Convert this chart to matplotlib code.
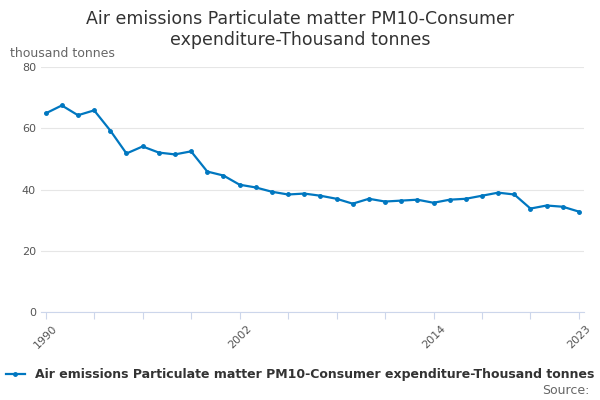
import matplotlib.pyplot as plt

years = list(range(1990, 2024))
values = [64.9, 67.5, 64.3, 65.9, 59.3, 51.8, 54.1, 52.1, 51.5, 52.5,
          45.9, 44.6, 41.6, 40.7, 39.3, 38.4, 38.7, 38.0, 37.0, 35.4,
          37.0, 36.1, 36.4, 36.7, 35.7, 36.7, 37.0, 38.0, 39.0, 38.4,
          33.8, 34.8, 34.4, 32.8]
label = "Air emissions Particulate matter PM10-Consumer expenditure-Thousand tonnes"
tick_years = list(range(1990, 2023, 3)) + [2023]
label_years = [1990, 2002, 2014, 2023]

fig = plt.figure(figsize=(6, 4), dpi=100)
ax = fig.add_axes([0.068, 0.22, 0.905, 0.612])
ax.plot(years, values, color="#0077c0", lw=1.6, marker="o", ms=2.5, label=label)

ax.set_ylim(0, 80)
ax.set_yticks([0, 20, 40, 60, 80])
ax.set_xlim(1989.7, 2023.3)
ax.set_xticks(tick_years)
ax.set_xticklabels([str(y) if y in label_years else "" for y in tick_years],
                   rotation=45, fontsize=8, color="#555555")
ax.tick_params(axis="y", length=0, labelsize=8, labelcolor="#555555")
ax.tick_params(axis="x", length=5, color="#ccd6eb")
ax.grid(axis="y", color="#e6e6e6", lw=0.8)
for s in ["top", "right", "left"]:
    ax.spines[s].set_visible(False)
ax.spines["bottom"].set_color("#ccd6eb")

fig.suptitle("Air emissions Particulate matter PM10-Consumer\nexpenditure-Thousand tonnes",
             y=0.975, fontsize=12.5, color="#333333")
fig.text(0.017, 0.858, "thousand tonnes", fontsize=9, color="#666666")
fig.legend(loc="lower center", bbox_to_anchor=(0.5, 0.035), frameon=False,
           prop={"weight": "bold", "size": 9}, labelcolor="#333333",
           handlelength=1.5, borderaxespad=0)
fig.text(0.982, 0.015, "Source:", fontsize=9, color="#666666", ha="right")
fig.savefig("out.png")
